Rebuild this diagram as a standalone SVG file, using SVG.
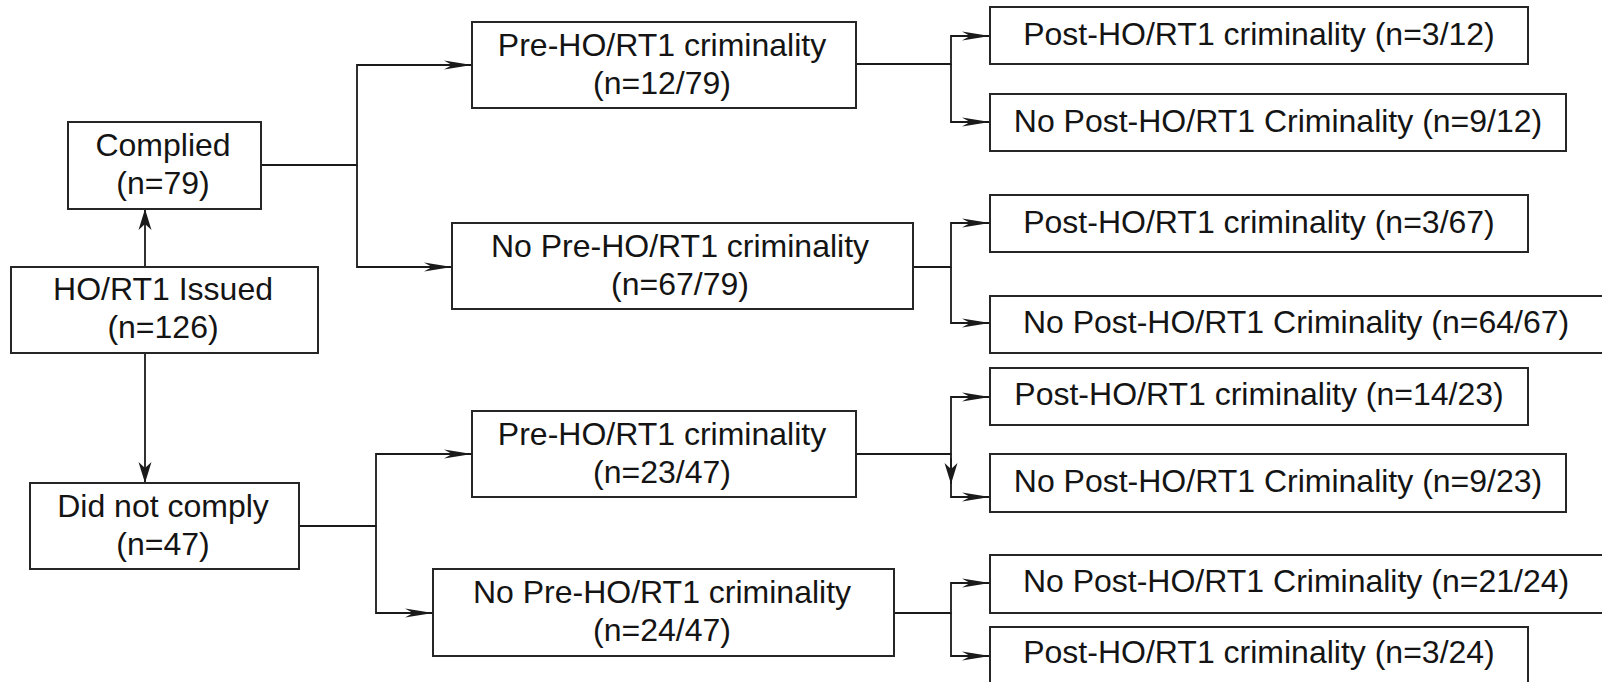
<svg xmlns="http://www.w3.org/2000/svg" width="1602" height="682" viewBox="0 0 1602 682">
<style>
.box{fill:#fff;stroke:#262626;stroke-width:2}
.t{font-family:"Liberation Sans",Arial,sans-serif;font-size:32px;fill:#141414;text-anchor:middle}
.c{fill:none;stroke:#1a1a1a;stroke-width:1.8}
</style>
<defs>
<marker id="arrH" viewBox="-30 -6 32 12" markerWidth="32" markerHeight="12" refX="0" refY="0" orient="auto" markerUnits="userSpaceOnUse">
<path d="M0,0 L-28,-4.5 L-20,0 L-28,4.5 Z" fill="#1a1a1a"/>
</marker>
<marker id="arrV" viewBox="-24 -8 26 16" markerWidth="26" markerHeight="16" refX="0" refY="0" orient="auto" markerUnits="userSpaceOnUse">
<path d="M0,0 L-21,-6.5 L-15,0 L-21,6.5 Z" fill="#1a1a1a"/>
</marker>
</defs>
<rect width="1602" height="682" fill="#fff"/>
<g id="connectors">
<path class="c" d="M145,267 V209" marker-end="url(#arrV)"/>
<path class="c" d="M145,353 V483" marker-end="url(#arrV)"/>
<path class="c" d="M261,165 H357 V65 H472" marker-end="url(#arrH)"/>
<path class="c" d="M357,165 V267 H452" marker-end="url(#arrH)"/>
<path class="c" d="M299,526 H376 V454 H472" marker-end="url(#arrH)"/>
<path class="c" d="M376,526 V613 H433" marker-end="url(#arrH)"/>
<path class="c" d="M856,64 H951 V36 H990" marker-end="url(#arrH)"/>
<path class="c" d="M951,64 V122 H990" marker-end="url(#arrH)"/>
<path class="c" d="M913,267 H951 V223 H990" marker-end="url(#arrH)"/>
<path class="c" d="M951,267 V323 H990" marker-end="url(#arrH)"/>
<path class="c" d="M856,454 H951 V397 H990" marker-end="url(#arrH)"/>
<path class="c" d="M951,454 V497 H990" marker-end="url(#arrH)"/>
<path class="c" d="M951,458 V484" marker-end="url(#arrV)"/>
<path class="c" d="M894,613 H951 V583 H990" marker-end="url(#arrH)"/>
<path class="c" d="M951,613 V656 H990" marker-end="url(#arrH)"/>
</g>
<g id="complied"><rect class="box" x="68" y="122" width="193" height="87"/><text class="t" x="163" y="156">Complied</text><text class="t" x="163" y="194">(n=79)</text></g>
<g id="issued"><rect class="box" x="11" y="267" width="307" height="86"/><text class="t" x="163" y="300">HO/RT1 Issued</text><text class="t" x="163" y="338">(n=126)</text></g>
<g id="notcomply"><rect class="box" x="30" y="483" width="269" height="86"/><text class="t" x="163" y="517">Did not comply</text><text class="t" x="163" y="555">(n=47)</text></g>
<g id="pre1"><rect class="box" x="472" y="22" width="384" height="86"/><text class="t" x="662" y="56">Pre-HO/RT1 criminality</text><text class="t" x="662" y="94">(n=12/79)</text></g>
<g id="nopre1"><rect class="box" x="452" y="223" width="461" height="86"/><text class="t" x="680" y="257">No Pre-HO/RT1 criminality</text><text class="t" x="680" y="295">(n=67/79)</text></g>
<g id="pre2"><rect class="box" x="472" y="411" width="384" height="86"/><text class="t" x="662" y="445">Pre-HO/RT1 criminality</text><text class="t" x="662" y="483">(n=23/47)</text></g>
<g id="nopre2"><rect class="box" x="433" y="569" width="461" height="87"/><text class="t" x="662" y="603">No Pre-HO/RT1 criminality</text><text class="t" x="662" y="641">(n=24/47)</text></g>
<g id="r1"><rect class="box" x="990" y="7" width="538" height="57"/><text class="t" x="1259" y="45">Post-HO/RT1 criminality (n=3/12)</text></g>
<g id="r2"><rect class="box" x="990" y="94" width="576" height="57"/><text class="t" x="1278" y="132">No Post-HO/RT1 Criminality (n=9/12)</text></g>
<g id="r3"><rect class="box" x="990" y="195" width="538" height="57"/><text class="t" x="1259" y="233">Post-HO/RT1 criminality (n=3/67)</text></g>
<g id="r4"><rect class="box" x="990" y="296" width="616" height="57"/><text class="t" x="1296" y="333">No Post-HO/RT1 Criminality (n=64/67)</text></g>
<g id="r5"><rect class="box" x="990" y="368" width="538" height="57"/><text class="t" x="1259" y="405">Post-HO/RT1 criminality (n=14/23)</text></g>
<g id="r6"><rect class="box" x="990" y="454" width="576" height="58"/><text class="t" x="1278" y="492">No Post-HO/RT1 Criminality (n=9/23)</text></g>
<g id="r7"><rect class="box" x="990" y="555" width="616" height="58"/><text class="t" x="1296" y="592">No Post-HO/RT1 Criminality (n=21/24)</text></g>
<g id="r8"><rect class="box" x="990" y="627" width="538" height="66"/><text class="t" x="1259" y="663">Post-HO/RT1 criminality (n=3/24)</text></g>
</svg>
